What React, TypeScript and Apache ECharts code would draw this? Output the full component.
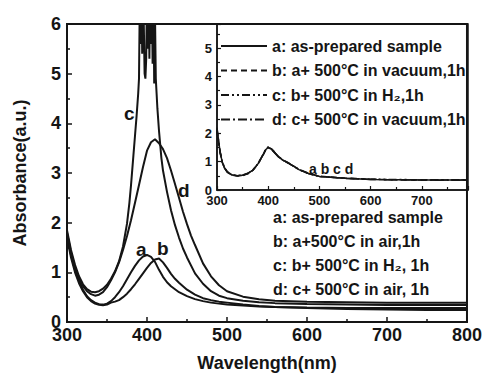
import React, { useEffect, useRef } from "react";
import * as echarts from "echarts";

// ---------- main panel data ----------
const wavelengths = [300, 305, 310, 315, 320, 325, 330, 335, 340, 345, 350, 355, 360, 365, 370, 375, 380, 385, 390, 395, 400, 405, 410, 415, 420, 425, 430, 435, 440, 445, 450, 455, 460, 470, 480, 490, 500, 520, 540, 560, 600, 650, 700, 750, 800];
const seriesA = [1.75, 1.35, 1.05, 0.82, 0.65, 0.52, 0.44, 0.39, 0.36, 0.35, 0.37, 0.42, 0.50, 0.60, 0.72, 0.86, 1.00, 1.13, 1.24, 1.32, 1.35, 1.31, 1.21, 1.05, 0.91, 0.80, 0.72, 0.66, 0.60, 0.56, 0.52, 0.49, 0.46, 0.42, 0.39, 0.37, 0.35, 0.33, 0.31, 0.30, 0.29, 0.28, 0.28, 0.28, 0.28];
const seriesB = [1.70, 1.30, 1.00, 0.78, 0.62, 0.50, 0.42, 0.37, 0.345, 0.335, 0.35, 0.39, 0.41, 0.44, 0.50, 0.57, 0.66, 0.76, 0.87, 0.98, 1.09, 1.19, 1.26, 1.28, 1.20, 1.09, 0.97, 0.87, 0.79, 0.72, 0.65, 0.60, 0.55, 0.48, 0.44, 0.41, 0.39, 0.35, 0.32, 0.30, 0.28, 0.26, 0.25, 0.24, 0.24];
const seriesD = [1.80, 1.40, 1.10, 0.88, 0.72, 0.62, 0.56, 0.53, 0.55, 0.60, 0.70, 0.84, 1.00, 1.20, 1.45, 1.73, 2.05, 2.40, 2.76, 3.12, 3.45, 3.62, 3.68, 3.60, 3.48, 3.30, 3.05, 2.78, 2.50, 2.22, 1.97, 1.74, 1.55, 1.18, 0.92, 0.74, 0.62, 0.51, 0.46, 0.43, 0.41, 0.40, 0.39, 0.39, 0.39];
const wavelengthsC = [300, 305, 310, 315, 320, 325, 330, 335, 340, 345, 350, 355, 360, 365, 370, 375, 378, 380, 383, 385, 387, 389, 390, 391, 392, 393, 394, 395, 396, 397, 398, 399, 400, 401, 402, 403, 404, 405, 406, 407, 408, 409, 410, 411, 412, 413, 415, 418, 420, 425, 430, 435, 440, 445, 450, 460, 470, 480, 490, 500, 520, 540, 560, 600, 650, 700, 750, 800];
const seriesC = [1.85, 1.45, 1.15, 0.92, 0.76, 0.66, 0.61, 0.60, 0.62, 0.67, 0.75, 0.87, 1.02, 1.22, 1.52, 1.98, 2.40, 2.75, 3.35, 3.75, 4.15, 4.60, 4.90, 6.50, 5.60, 6.80, 5.40, 6.60, 6.00, 5.00, 4.90, 5.30, 6.70, 5.50, 6.80, 5.30, 6.90, 5.60, 6.70, 5.20, 6.80, 4.80, 6.20, 4.90, 4.60, 4.30, 3.85, 3.30, 3.05, 2.62, 2.25, 1.95, 1.70, 1.48, 1.30, 0.98, 0.77, 0.62, 0.53, 0.48, 0.43, 0.40, 0.38, 0.36, 0.35, 0.34, 0.34, 0.34];

const mainLegend = [
  "a: as-prepared sample",
  "b: a+500°C in air,1h",
  "c: b+ 500°C in H₂, 1h",
  "d: c+ 500°C in air, 1h",
];

// ---------- inset data ----------
const insetWavelengths = [300, 303, 306, 310, 315, 320, 325, 330, 340, 350, 360, 370, 380, 390, 395, 400, 405, 410, 420, 430, 440, 460, 480, 500, 550, 600, 650, 700, 790];
const insetA = [2.15, 1.75, 1.35, 1.00, 0.77, 0.64, 0.57, 0.53, 0.50, 0.52, 0.58, 0.70, 0.92, 1.25, 1.42, 1.50, 1.46, 1.37, 1.17, 1.04, 0.95, 0.72, 0.57, 0.48, 0.41, 0.37, 0.36, 0.35, 0.35];
const insetB = [2.10, 1.72, 1.33, 0.98, 0.76, 0.63, 0.56, 0.52, 0.49, 0.51, 0.57, 0.69, 0.91, 1.23, 1.41, 1.49, 1.46, 1.38, 1.18, 1.05, 0.95, 0.73, 0.58, 0.49, 0.42, 0.38, 0.36, 0.35, 0.35];
const insetC = [2.20, 1.78, 1.37, 1.01, 0.78, 0.65, 0.58, 0.54, 0.51, 0.53, 0.59, 0.71, 0.93, 1.26, 1.44, 1.52, 1.48, 1.38, 1.17, 1.03, 0.94, 0.72, 0.57, 0.48, 0.41, 0.38, 0.37, 0.36, 0.36];
const insetD = [2.05, 1.70, 1.32, 0.99, 0.76, 0.64, 0.57, 0.53, 0.50, 0.52, 0.58, 0.70, 0.92, 1.24, 1.41, 1.48, 1.45, 1.36, 1.16, 1.03, 0.94, 0.72, 0.57, 0.48, 0.41, 0.37, 0.36, 0.35, 0.34];
const insetLegend = [
  "a: as-prepared sample",
  "b: a+ 500°C in vacuum,1h",
  "c: b+ 500°C in H₂,1h",
  "d: c+ 500°C in vacuum,1h",
];

export default function App() {
  const ref = useRef<HTMLDivElement>(null);
  useEffect(() => {
    const chart = echarts.init(ref.current!, null, { renderer: "svg" });
    const FONT = "Liberation Sans, Arial, sans-serif";
    const INK = "#151515";
    const pairs = (xs: number[], ys: number[]) => xs.map((x, i) => [x, ys[i]]);
    const label = (size: number) => ({ color: INK, fontSize: size, fontWeight: "bold" as const, fontFamily: FONT });

    const mainSeries = [
      { name: "main a", x: wavelengths, y: seriesA },
      { name: "main b", x: wavelengths, y: seriesB },
      { name: "main c", x: wavelengthsC, y: seriesC },
      { name: "main d", x: wavelengths, y: seriesD },
    ].map((s) => ({
      name: s.name,
      type: "line",
      xAxisIndex: 0,
      yAxisIndex: 0,
      data: pairs(s.x, s.y),
      showSymbol: false,
      symbol: "none",
      clip: true,
      lineStyle: { color: INK, width: 2 },
      z: 3,
    }));

    const dashes: any[] = ["solid", [6, 4], [8, 3, 2, 3, 2, 3], [9, 3, 2, 3]];
    const insetSeries = [insetA, insetB, insetC, insetD].map((ys, i) => ({
      name: insetLegend[i],
      type: "line",
      xAxisIndex: 1,
      yAxisIndex: 1,
      data: pairs(insetWavelengths, ys),
      showSymbol: false,
      symbol: "none",
      clip: true,
      color: INK,
      lineStyle: { color: INK, width: 1.5, type: dashes[i] },
      z: 4,
    }));

    const option: any = {
      animation: false,
      backgroundColor: "#ffffff",
      grid: [
        { left: 67, top: 24, right: 17, bottom: 56, show: true, borderColor: INK, borderWidth: 2, backgroundColor: "transparent" },
        { left: 217, top: 24, right: 17, bottom: 188, show: true, borderColor: INK, borderWidth: 1.5, backgroundColor: "transparent" },
      ],
      xAxis: [
        {
          gridIndex: 0, type: "value", min: 300, max: 800, interval: 100,
          name: "Wavelength(nm)", nameLocation: "middle", nameGap: 32,
          nameTextStyle: label(18),
          axisLine: { lineStyle: { color: INK, width: 2 } },
          axisTick: { inside: true, length: 5, lineStyle: { color: INK, width: 1.5 } },
          minorTick: { show: true, splitNumber: 2, length: 3, lineStyle: { color: INK, width: 1.5 } },
          axisLabel: { ...label(18), margin: 6, lineHeight: 14 },
          splitLine: { show: false },
        },
        {
          gridIndex: 1, type: "value", min: 300, max: 790, interval: 100,
          axisLine: { lineStyle: { color: INK, width: 1.5 } },
          axisTick: { inside: true, length: 4, lineStyle: { color: INK, width: 1.2 } },
          minorTick: { show: true, splitNumber: 2, length: 3, lineStyle: { color: INK, width: 1.2 } },
          axisLabel: { ...label(13), margin: 5, showMaxLabel: false, lineHeight: 10 },
          splitLine: { show: false },
        },
      ],
      yAxis: [
        {
          gridIndex: 0, type: "value", min: 0, max: 6, interval: 1,
          name: "Absorbance(a.u.)", nameLocation: "middle", nameGap: 38, nameRotate: 90,
          nameTextStyle: label(18),
          axisLine: { lineStyle: { color: INK, width: 2 } },
          axisTick: { inside: true, length: 5, lineStyle: { color: INK, width: 1.5 } },
          minorTick: { show: true, splitNumber: 2, length: 3, lineStyle: { color: INK, width: 1.5 } },
          axisLabel: { ...label(18), margin: 6, lineHeight: 12 },
          splitLine: { show: false },
        },
        {
          gridIndex: 1, type: "value", min: 0, max: 5.85, interval: 1,
          axisLine: { lineStyle: { color: INK, width: 1.5 } },
          axisTick: { inside: true, length: 4, lineStyle: { color: INK, width: 1.2 } },
          minorTick: { show: true, splitNumber: 2, length: 3, lineStyle: { color: INK, width: 1.2 } },
          axisLabel: { ...label(13), margin: 5, showMaxLabel: false, lineHeight: 9 },
          splitLine: { show: false },
        },
      ],
      legend: {
        orient: "vertical",
        left: 220,
        top: 38,
        itemWidth: 46,
        itemHeight: 14,
        itemGap: 8.5,
        padding: 0,
        data: insetLegend,
        textStyle: label(16),
        itemStyle: { color: "transparent", borderColor: "transparent", borderWidth: 0, opacity: 0 },
        inactiveColor: INK,
        selectedMode: false,
      },
      series: [...mainSeries, ...insetSeries],
      graphic: [
        ...mainLegend.map((t, i) => ({
          type: "text",
          left: 273,
          top: 209 + i * 24.3,
          style: { text: t, fill: INK, font: `bold 16px ${FONT}` },
        })),
        { type: "text", left: 124, top: 104, style: { text: "c", fill: INK, font: `bold 19px ${FONT}` } },
        { type: "text", left: 178, top: 181, style: { text: "d", fill: INK, font: `bold 19px ${FONT}` } },
        { type: "text", left: 136, top: 240, style: { text: "a", fill: INK, font: `bold 19px ${FONT}` } },
        { type: "text", left: 157, top: 239, style: { text: "b", fill: INK, font: `bold 19px ${FONT}` } },
        { type: "text", left: 309, top: 162, style: { text: "a b c d", fill: INK, font: `bold 14px ${FONT}` } },
      ],
    };
    chart.setOption(option);
    return () => chart.dispose();
  }, []);
  return <div ref={ref} style={{ position: "fixed", left: 0, top: 0, width: 485, height: 378, background: "#fff" }} />;
}
